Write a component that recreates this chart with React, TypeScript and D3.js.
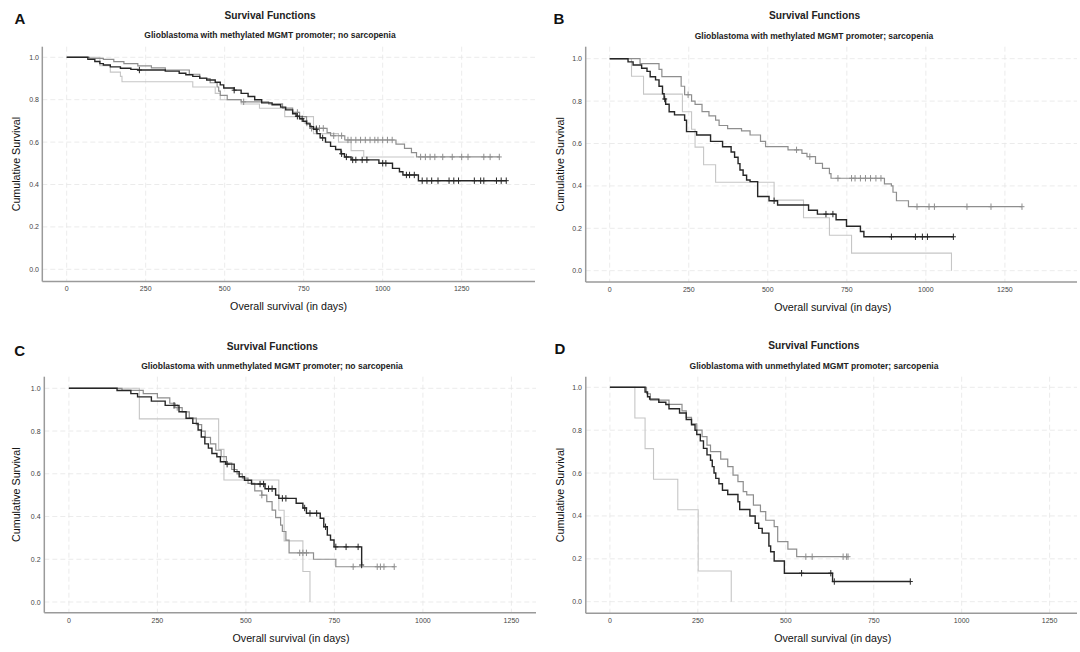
import React from "react";
import * as d3 from "d3";

type Step = [number, number];

const xTicks = [0, 250, 500, 750, 1000, 1250];
const yTicks = [0, 0.2, 0.4, 0.6, 0.8, 1.0];
const titleText = "Survival Functions";
const xLabel = "Overall survival (in days)";
const yLabel = "Cumulative Survival";
const panelLetters = ["A", "B", "C", "D"];
const subtitles = [
  "Glioblastoma with methylated MGMT promoter; no sarcopenia",
  "Glioblastoma with methylated MGMT promoter; sarcopenia",
  "Glioblastoma with unmethylated MGMT promoter; no sarcopenia",
  "Glioblastoma with unmethylated MGMT promoter; sarcopenia",
];

// ---- Panel A ----
const aDark: Step[] = [[67,0.99],[89,0.98],[105,0.97],[116,0.964],[138,0.955],[170,0.948],[203,0.943],[225,0.94],[312,0.935],[356,0.925],[377,0.918],[399,0.91],[421,0.902],[443,0.893],[470,0.882],[486,0.87],[497,0.855],[530,0.845],[552,0.83],[574,0.815],[595,0.8],[617,0.785],[650,0.776],[677,0.765],[693,0.752],[715,0.734],[726,0.722],[737,0.71],[748,0.698],[759,0.686],[770,0.673],[781,0.66],[792,0.64],[802,0.62],[819,0.6],[835,0.58],[851,0.565],[868,0.545],[879,0.53],[900,0.516],[988,0.5],[1031,0.476],[1053,0.46],[1064,0.445],[1113,0.418]];
const aDarkEnd = 1391;
const aDarkCensor = [230,530,730,745,790,810,870,885,905,915,935,950,1000,1010,1075,1085,1100,1125,1140,1155,1175,1210,1225,1240,1290,1310,1320,1360,1375,1391];
const aMid: Step[] = [[72,0.995],[116,0.99],[149,0.98],[181,0.97],[225,0.96],[268,0.95],[312,0.94],[388,0.92],[421,0.9],[454,0.88],[476,0.86],[481,0.84],[486,0.82],[508,0.8],[552,0.79],[639,0.78],[683,0.76],[715,0.74],[737,0.72],[759,0.69],[770,0.665],[824,0.645],[835,0.63],[880,0.61],[1042,0.59],[1069,0.57],[1091,0.55],[1107,0.53]];
const aMidEnd = 1369;
const aMidCensor = [560,730,760,775,790,800,812,845,870,890,900,915,930,945,960,975,985,1000,1015,1030,1120,1135,1150,1165,1190,1220,1250,1270,1320,1340,1369];
const aLight: Step[] = [[105,0.96],[138,0.93],[170,0.91],[175,0.885],[399,0.86],[470,0.83],[486,0.8],[552,0.78],[610,0.76],[690,0.72],[781,0.64],[860,0.6],[900,0.56],[940,0.53]];
const aLightEnd = 1100;

// ---- Panel B ----
const bDark: Step[] = [[58,0.985],[74,0.97],[101,0.955],[118,0.94],[128,0.915],[145,0.9],[156,0.87],[167,0.835],[172,0.81],[177,0.785],[188,0.75],[205,0.735],[237,0.71],[243,0.656],[275,0.64],[319,0.61],[357,0.585],[384,0.56],[395,0.535],[406,0.505],[412,0.475],[422,0.45],[433,0.428],[444,0.42],[468,0.35],[504,0.33],[531,0.31],[629,0.285],[657,0.267],[716,0.24],[749,0.21],[793,0.185],[804,0.16]];
const bDarkEnd = 1087;
const bDarkCensor = [174,520,684,706,891,967,989,1005,1087];
const bMid: Step[] = [[96,0.977],[156,0.95],[165,0.915],[226,0.87],[237,0.83],[259,0.8],[270,0.785],[292,0.75],[314,0.73],[335,0.71],[346,0.685],[373,0.67],[417,0.66],[444,0.64],[477,0.61],[493,0.585],[564,0.57],[608,0.553],[624,0.538],[651,0.506],[673,0.483],[695,0.458],[700,0.436],[869,0.41],[891,0.4],[896,0.37],[907,0.33],[945,0.302]];
const bMidEnd = 1304;
const bMidCensor = [248,591,633,722,765,776,793,809,825,842,858,972,1010,1027,1130,1206,1304];
const bLight: Step[] = [[69,0.917],[107,0.833],[230,0.75],[259,0.667],[270,0.583],[297,0.5],[335,0.417],[520,0.333],[613,0.25],[695,0.167],[765,0.083],[1081,0]];
const bLightEnd = 1081;

// ---- Panel C ----
const cDark: Step[] = [[136,0.99],[175,0.975],[194,0.96],[233,0.94],[272,0.92],[311,0.89],[331,0.86],[350,0.836],[365,0.805],[374,0.772],[384,0.74],[394,0.72],[404,0.695],[418,0.68],[428,0.656],[443,0.645],[467,0.61],[481,0.586],[496,0.57],[516,0.552],[554,0.53],[584,0.5],[593,0.485],[642,0.462],[661,0.44],[671,0.415],[710,0.392],[720,0.352],[730,0.313],[739,0.29],[749,0.258],[827,0.173]];
const cDarkEnd = 827;
const cDarkCensor = [297,447,540,550,564,574,603,613,666,681,700,725,754,783,817,827];
const cMid: Step[] = [[150,0.99],[210,0.975],[250,0.955],[285,0.93],[300,0.91],[320,0.89],[340,0.86],[360,0.83],[375,0.8],[385,0.77],[400,0.74],[415,0.71],[430,0.68],[445,0.65],[460,0.62],[475,0.6],[490,0.58],[506,0.555],[525,0.52],[545,0.5],[559,0.47],[574,0.43],[584,0.395],[598,0.36],[603,0.33],[613,0.29],[622,0.23],[691,0.2],[754,0.165]];
const cMidEnd = 919;
const cMidCensor = [306,545,652,661,671,803,871,880,890,919];
const cLight: Step[] = [[199,0.857],[423,0.714],[438,0.571],[593,0.429],[608,0.286],[661,0.143],[681,0]];
const cLightEnd = 681;

// ---- Panel D ----
const dDark: Step[] = [[100,0.978],[107,0.956],[113,0.945],[139,0.93],[159,0.92],[168,0.9],[198,0.88],[217,0.85],[232,0.825],[242,0.8],[247,0.78],[257,0.75],[266,0.715],[276,0.685],[286,0.66],[291,0.63],[296,0.6],[301,0.575],[310,0.55],[320,0.52],[335,0.5],[364,0.466],[369,0.43],[398,0.4],[413,0.366],[423,0.342],[433,0.32],[452,0.26],[457,0.233],[467,0.19],[496,0.133],[633,0.094]];
const dDarkEnd = 854;
const dDarkCensor = [545,628,638,854];
const dMid: Step[] = [[104,0.97],[115,0.94],[168,0.92],[205,0.89],[217,0.86],[232,0.83],[247,0.8],[262,0.77],[276,0.73],[286,0.7],[315,0.665],[335,0.63],[350,0.59],[364,0.56],[379,0.513],[389,0.498],[408,0.45],[428,0.42],[443,0.38],[467,0.35],[477,0.28],[506,0.245],[531,0.21]];
const dMidEnd = 677;
const dMidCensor = [557,575,663,673,677];
const dLight: Step[] = [[71,0.857],[100,0.714],[124,0.571],[193,0.429],[251,0.143],[345,0]];
const dLightEnd = 345;

type Kind = "dark" | "mid" | "light";
interface Series { steps: Step[]; end: number; censor: number[]; kind: Kind }

const panelSeries: Series[][] = [
  [
    { steps: aLight, end: aLightEnd, censor: [], kind: "light" },
    { steps: aMid, end: aMidEnd, censor: aMidCensor, kind: "mid" },
    { steps: aDark, end: aDarkEnd, censor: aDarkCensor, kind: "dark" },
  ],
  [
    { steps: bLight, end: bLightEnd, censor: [], kind: "light" },
    { steps: bMid, end: bMidEnd, censor: bMidCensor, kind: "mid" },
    { steps: bDark, end: bDarkEnd, censor: bDarkCensor, kind: "dark" },
  ],
  [
    { steps: cLight, end: cLightEnd, censor: [], kind: "light" },
    { steps: cMid, end: cMidEnd, censor: cMidCensor, kind: "mid" },
    { steps: cDark, end: cDarkEnd, censor: cDarkCensor, kind: "dark" },
  ],
  [
    { steps: dLight, end: dLightEnd, censor: [], kind: "light" },
    { steps: dMid, end: dMidEnd, censor: dMidCensor, kind: "mid" },
    { steps: dDark, end: dDarkEnd, censor: dDarkCensor, kind: "dark" },
  ],
];

const styles: Record<Kind, { color: string; width: number }> = {
  dark: { color: "#262626", width: 1.4 },
  mid: { color: "#8e8e8e", width: 1.2 },
  light: { color: "#c6c6c6", width: 1.1 },
};

interface Layout {
  x0: number; x1250: number; axisX: number; right: number;
  y1: number; y0: number; axisY: number; top: number;
  letter: [number, number]; title: [number, number]; sub: [number, number];
  xlab: [number, number]; ylabX: number; yTickRight: number; xTickY: number;
}

const layouts: Layout[] = [
  { x0: 66.7, x1250: 461.7, axisX: 42.3, right: 535, y1: 57.3, y0: 269.3, axisY: 281.5, top: 46.7,
    letter: [20, 18], title: [270, 15], sub: [270, 35], xlab: [288.6, 305.7], ylabX: 15.5, yTickRight: 39, xTickY: 288.5 },
  { x0: 609.7, x1250: 1004.9, axisX: 585.7, right: 1077, y1: 58.7, y0: 270.7, axisY: 282, top: 46.7,
    letter: [559, 18], title: [814.5, 15], sub: [814, 36], xlab: [832.7, 306.7], ylabX: 559.5, yTickRight: 582, xTickY: 289 },
  { x0: 68.9, x1250: 511.4, axisX: 44.3, right: 536, y1: 388.3, y0: 602, axisY: 612.7, top: 376.7,
    letter: [19.6, 350], title: [272.4, 346.7], sub: [272, 366], xlab: [291, 638.3], ylabX: 16.4, yTickRight: 40.6, xTickY: 620 },
  { x0: 609.9, x1250: 1049.6, axisX: 585.8, right: 1077, y1: 387.3, y0: 601.7, axisY: 613.3, top: 376.7,
    letter: [560, 348], title: [813.8, 345], sub: [814, 366], xlab: [832.7, 638], ylabX: 559.5, yTickRight: 582, xTickY: 620 },
];

const font = "'Liberation Sans', Arial, sans-serif";

function survAt(steps: Step[], t: number): number {
  let s = 1;
  for (const [st, sv] of steps) {
    if (st <= t) s = sv;
    else break;
  }
  return s;
}

function Panel({ idx }: { idx: number }) {
  const L = layouts[idx];
  const x = d3.scaleLinear().domain([0, 1250]).range([L.x0, L.x1250]);
  const y = d3.scaleLinear().domain([0, 1]).range([L.y0, L.y1]);
  const line = d3
    .line<Step>()
    .x((d) => x(d[0]))
    .y((d) => y(d[1]))
    .curve(d3.curveStepAfter);
  const series = panelSeries[idx];
  const midY = (L.top + L.axisY) / 2;
  return (
    <g>
      {xTicks.map((t) => (
        <line key={"gx" + t} x1={x(t)} x2={x(t)} y1={L.top} y2={L.axisY}
          stroke="#e6e6e6" strokeWidth={0.8} strokeDasharray="5 3" />
      ))}
      {yTicks.map((v) => (
        <line key={"gy" + v} x1={L.axisX} x2={L.right} y1={y(v)} y2={y(v)}
          stroke="#e6e6e6" strokeWidth={0.8} strokeDasharray="5 3" />
      ))}
      {series.map((s, i) => {
        const pts: Step[] = [[0, 1], ...s.steps];
        const last = s.steps.length ? s.steps[s.steps.length - 1][1] : 1;
        pts.push([s.end, last]);
        const st = styles[s.kind];
        return (
          <g key={"s" + i}>
            <path d={line(pts) || ""} fill="none" stroke={st.color} strokeWidth={st.width} />
            {s.censor.map((c, j) => {
              const cx = x(c);
              const cy = y(survAt(s.steps, c));
              return (
                <g key={"c" + j} stroke={st.color} strokeWidth={1}>
                  <line x1={cx} x2={cx} y1={cy - 3.2} y2={cy + 3.2} />
                  <line x1={cx - 2.5} x2={cx + 2.5} y1={cy} y2={cy} />
                </g>
              );
            })}
          </g>
        );
      })}
      <line x1={L.axisX} x2={L.axisX} y1={L.top} y2={L.axisY} stroke="#9a9a9a" strokeWidth={1.5} />
      <line x1={L.axisX} x2={L.right} y1={L.axisY} y2={L.axisY} stroke="#9a9a9a" strokeWidth={1.5} />
      {yTicks.map((v) => (
        <text key={"yt" + v} x={L.yTickRight} y={y(v)} textAnchor="end" dominantBaseline="central"
          fontSize={7} fill="#444" fontFamily={font}>{v.toFixed(1)}</text>
      ))}
      {xTicks.map((t) => (
        <text key={"xt" + t} x={x(t)} y={L.xTickY} textAnchor="middle" dominantBaseline="central"
          fontSize={7} fill="#444" fontFamily={font}>{t}</text>
      ))}
      <text x={L.letter[0]} y={L.letter[1]} textAnchor="middle" dominantBaseline="central"
        fontSize={15} fontWeight="bold" fill="#111" fontFamily={font}>{panelLetters[idx]}</text>
      <text x={L.title[0]} y={L.title[1]} textAnchor="middle" dominantBaseline="central"
        fontSize={10.2} fontWeight="bold" fill="#222" fontFamily={font}>{titleText}</text>
      <text x={L.sub[0]} y={L.sub[1]} textAnchor="middle" dominantBaseline="central"
        fontSize={8.5} fontWeight="bold" fill="#222" fontFamily={font}>{subtitles[idx]}</text>
      <text x={L.xlab[0]} y={L.xlab[1]} textAnchor="middle" dominantBaseline="central"
        fontSize={10.7} fill="#111" fontFamily={font}>{xLabel}</text>
      <text transform={`translate(${L.ylabX},${midY}) rotate(-90)`} textAnchor="middle"
        dominantBaseline="central" fontSize={10.7} fill="#111" fontFamily={font}>{yLabel}</text>
    </g>
  );
}

export default function App() {
  return (
    <svg width={1080} height={652} viewBox="0 0 1080 652"
      style={{ position: "absolute", left: 0, top: 0, background: "#fff" }}>
      <rect x={0} y={0} width={1080} height={652} fill="#fff" />
      {[0, 1, 2, 3].map((i) => (
        <Panel key={i} idx={i} />
      ))}
    </svg>
  );
}
